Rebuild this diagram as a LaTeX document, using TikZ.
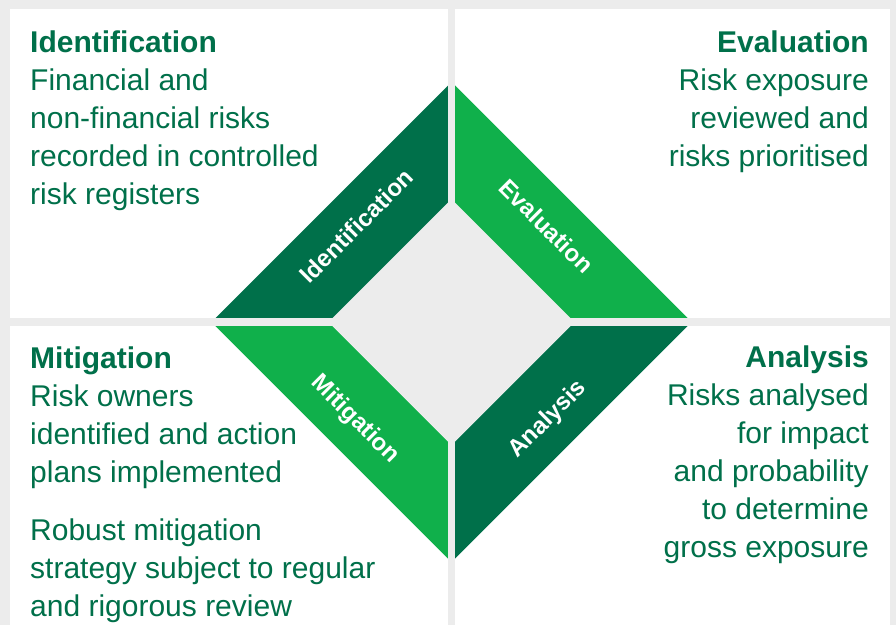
\documentclass[tikz,border=0pt]{standalone}
\usepackage{fontspec}
\setmainfont{Liberation Sans}
\usepackage{tikz}
\usetikzlibrary{positioning}
\usepackage{xcolor}
\definecolor{DeepGreen}{HTML}{00704A}
\definecolor{BrightGreen}{HTML}{10B04B}
\definecolor{PaleGrey}{HTML}{ECECEC}

\begin{document}
\begin{tikzpicture}[
      x=1pt, y=-1pt,
      panel/.style={fill=white},
      band/.style={font=\fontsize{24}{24}\selectfont\bfseries, text=white, inner sep=0pt, text height=17pt, text depth=0pt},
      blurb/.style={font=\fontsize{30}{38}\selectfont, text=DeepGreen, inner sep=0pt}
    ]
    \fill[PaleGrey] (0,0) rectangle (896,625);
    \useasboundingbox (0,0) rectangle (896,625);

    \fill[panel] (10,9) rectangle (448,318);
    \fill[panel] (455,9) rectangle (890,318);
    \fill[panel] (10,326) rectangle (448,625);
    \fill[panel] (455,326) rectangle (890,625);

    \coordinate (hub) at (451.5,322);
    \coordinate (top) at (451.5,82);
    \coordinate (right) at (691.5,322);
    \coordinate (bottom) at (451.5,562);
    \coordinate (left) at (211.5,322);

    \fill[DeepGreen] (hub) -- (left) -- (top) -- cycle;
    \fill[BrightGreen] (hub) -- (top) -- (right) -- cycle;
    \fill[DeepGreen] (hub) -- (right) -- (bottom) -- cycle;
    \fill[BrightGreen] (hub) -- (bottom) -- (left) -- cycle;
    \fill[PaleGrey] (451.5,199) -- (574.5,322) -- (451.5,445) -- (328.5,322) -- cycle;

    \fill[PaleGrey] (448,0) rectangle (455,625);
    \fill[PaleGrey] (0,318) rectangle (896,326);

    \node[band, rotate=45] (identify) at (356.5,226) {Identification};
    \node[band, rotate=-45] (evaluate) at (546.5,226) {Evaluation};
    \node[band, rotate=-45] (mitigate) at (356.5,418) {Mitigation};
    \node[band, rotate=45] (analyse) at (546.5,418) {Analysis};

    % anchored on the baseline of the last line
    \node[blurb, anchor=base west, align=left] (idtext) at (30,204)
      {\textbf{Identification}\\Financial and\\non-financial risks\\recorded in controlled\\risk registers};
    \node[blurb, anchor=base east, align=right] (evtext) at (869,166)
      {\textbf{Evaluation}\\Risk exposure\\reviewed and\\risks prioritised};
    \node[blurb, anchor=base west, align=left] (mitext) at (30,616)
      {\textbf{Mitigation}\\Risk owners\\identified and action\\plans implemented\\[20pt]Robust mitigation\\strategy subject to regular\\and rigorous review};
    \node[blurb, anchor=base east, align=right] (antext) at (869,557)
      {\textbf{Analysis}\\Risks analysed\\for impact\\and probability\\to determine\\gross exposure};
  \end{tikzpicture}
\end{document}
